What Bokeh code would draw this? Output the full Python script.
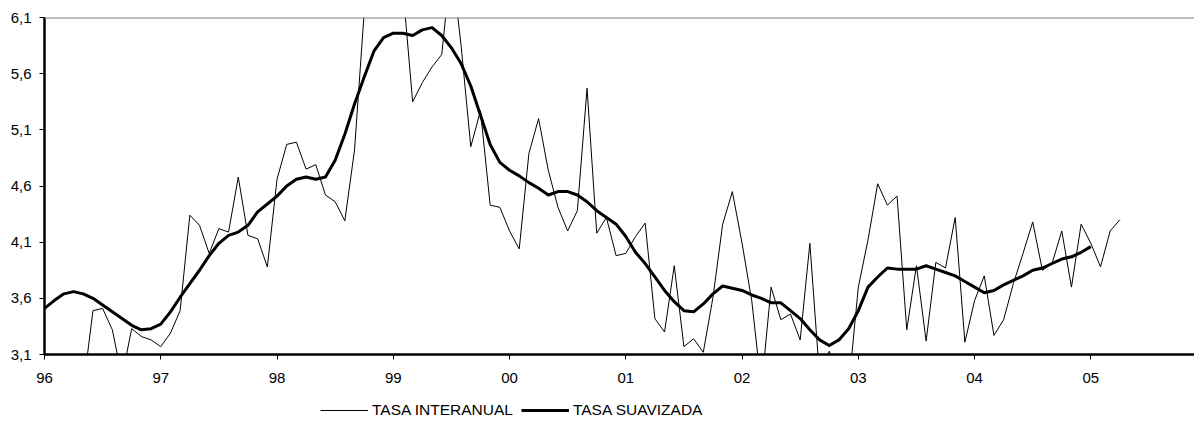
import numpy as np
from bokeh.plotting import figure
from bokeh.layouts import column
from bokeh.models import Range1d, FixedTicker, Span, Legend, LegendItem
from bokeh.embed import file_html
from bokeh.resources import INLINE

# Monthly data, Jan 1996 onwards
tasa_interanual = [
    2.80, 2.80, 2.80, 2.80, 2.80, 3.49, 3.51, 3.32, 2.90, 3.33, 3.26, 3.23,   # 1996
    3.17, 3.29, 3.49, 4.34, 4.25, 4.00, 4.22, 4.19, 4.68, 4.16, 4.13, 3.88,   # 1997
    4.66, 4.97, 4.99, 4.75, 4.79, 4.52, 4.46, 4.29, 4.92, 6.15, 6.60, 6.80,   # 1998
    6.60, 6.35, 5.35, 5.52, 5.66, 5.77, 6.60, 5.85, 4.95, 5.27, 4.43, 4.41,   # 1999
    4.20, 4.04, 4.89, 5.20, 4.74, 4.41, 4.20, 4.38, 5.47, 4.18, 4.32, 3.98,   # 2000
    4.00, 4.15, 4.27, 3.42, 3.30, 3.89, 3.17, 3.24, 3.12, 3.61, 4.26, 4.55,   # 2001
    4.09, 3.58, 2.80, 3.70, 3.41, 3.46, 3.23, 4.09, 2.90, 3.13, 2.90, 2.80,   # 2002
    3.70, 4.12, 4.62, 4.43, 4.51, 3.32, 3.89, 3.22, 3.92, 3.87, 4.32, 3.21,   # 2003
    3.58, 3.80, 3.27, 3.41, 3.73, 4.00, 4.28, 3.85, 3.91, 4.20, 3.70, 4.26,   # 2004
    4.09, 3.88, 4.20, 4.30,                                                   # 2005
]
tasa_suavizada = [
    3.51, 3.58, 3.64, 3.66, 3.64, 3.60, 3.54, 3.48, 3.42, 3.36, 3.32, 3.33,   # 1996
    3.37, 3.48, 3.61, 3.73, 3.85, 3.98, 4.09, 4.16, 4.19, 4.25, 4.37, 4.44,   # 1997
    4.51, 4.60, 4.66, 4.68, 4.66, 4.68, 4.83, 5.06, 5.33, 5.57, 5.80, 5.92,   # 1998
    5.96, 5.96, 5.94, 5.99, 6.01, 5.94, 5.83, 5.69, 5.49, 5.23, 4.97, 4.81,   # 1999
    4.74, 4.69, 4.63, 4.58, 4.52, 4.55, 4.55, 4.52, 4.46, 4.38, 4.32, 4.26,   # 2000
    4.15, 4.01, 3.91, 3.79, 3.67, 3.57, 3.49, 3.48, 3.55, 3.64, 3.71, 3.69,   # 2001
    3.67, 3.63, 3.60, 3.56, 3.56, 3.49, 3.42, 3.32, 3.23, 3.18, 3.23, 3.33,   # 2002
    3.49, 3.70, 3.79, 3.87, 3.86, 3.86, 3.86, 3.89, 3.86, 3.83, 3.80, 3.75,   # 2003
    3.70, 3.65, 3.67, 3.72, 3.76, 3.80, 3.85, 3.87, 3.91, 3.95, 3.97, 4.01,   # 2004
    4.06,                                                                     # 2005
]
year_ticks = [1996, 1997, 1998, 1999, 2000, 2001, 2002, 2003, 2004, 2005]
year_labels = ["96", "97", "98", "99", "00", "01", "02", "03", "04", "05"]
y_ticks = [3.1, 3.6, 4.1, 4.6, 5.1, 5.6, 6.1]
y_labels = ["3,1", "3,6", "4,1", "4,6", "5,1", "5,6", "6,1"]
series_names = ["TASA INTERANUAL", "TASA SUAVIZADA"]

x_thin = 1996 + np.arange(len(tasa_interanual)) / 12.0
x_thick = 1996 + np.arange(len(tasa_suavizada)) / 12.0

FONT = "Liberation Sans"
THIN = dict(line_color="black", line_width=1, line_join="round")
THICK = dict(line_color="black", line_width=3, line_join="round")

p = figure(width=1194, height=394, output_backend="svg", toolbar_location=None,
           x_range=Range1d(1996, 1996 + 118.7 / 12.0), y_range=Range1d(3.1, 6.1),
           min_border_left=44, min_border_right=0, min_border_top=17, min_border_bottom=40)
p.outline_line_color = None
p.xgrid.visible = False
p.ygrid.visible = False

p.line(x_thin, tasa_interanual, **THIN)
p.line(x_thick, tasa_suavizada, **THICK)

top = Span(location=6.1, dimension="width", line_color="#808080", line_width=2)
p.add_layout(top)

for ax in (p.xaxis[0], p.yaxis[0]):
    ax.axis_line_color = "black"
    ax.axis_line_width = 2.5
    ax.major_tick_line_color = "black"
    ax.major_tick_line_width = 1
    ax.major_tick_in = 0
    ax.major_tick_out = 5
    ax.minor_tick_line_color = None
    ax.major_label_text_font = FONT
    ax.major_label_text_font_size = "15px"
    ax.major_label_text_color = "black"

p.xaxis.ticker = FixedTicker(ticks=year_ticks)
p.xaxis.major_label_overrides = {t: l for t, l in zip(year_ticks, year_labels)}
p.xaxis.major_label_standoff = 13
p.yaxis.ticker = FixedTicker(ticks=y_ticks)
p.yaxis.major_label_overrides = {t: l for t, l in zip(y_ticks, y_labels)}
p.yaxis.major_label_standoff = 8

# legend strip below the chart (its lines use the same series, kept out of view)
q = figure(width=1194, height=34, output_backend="svg", toolbar_location=None,
           x_range=Range1d(0, 1), y_range=Range1d(0, 1), min_border=0,
           x_axis_type=None, y_axis_type=None)
q.outline_line_color = None
q.grid.visible = False
l1 = q.line(x_thin, tasa_interanual, **THIN)
l2 = q.line(x_thick, tasa_suavizada, **THICK)
legend = Legend(items=[LegendItem(label=series_names[0], renderers=[l1]),
                       LegendItem(label=series_names[1], renderers=[l2])],
                location=(276, 8), orientation="horizontal",
                padding=0, margin=0, spacing=8, label_standoff=4,
                glyph_width=48, glyph_height=20, label_height=20,
                label_text_font=FONT, label_text_font_size="15.5px",
                label_text_color="black",
                border_line_color=None, background_fill_alpha=0)
q.add_layout(legend, "center")

open("out.html", "w").write(file_html(column(p, q, spacing=0), INLINE))
